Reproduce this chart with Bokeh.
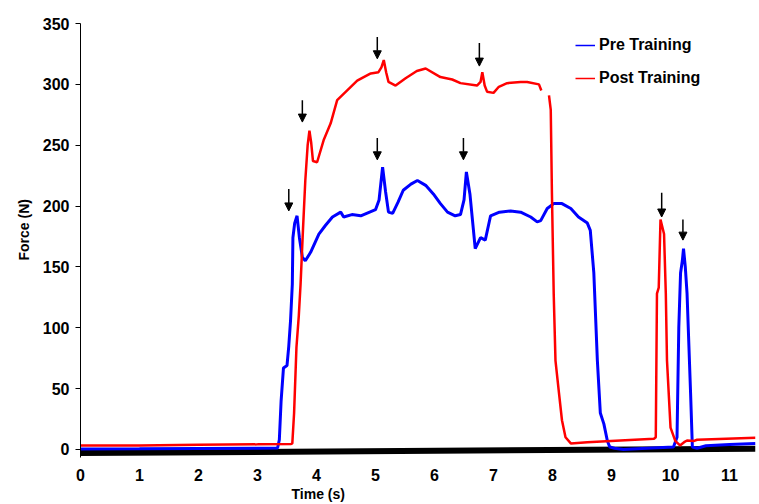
import numpy as np
from bokeh.plotting import figure
from bokeh.models import (ColumnDataSource, Arrow, NormalHead, Legend,
                          LegendItem, FixedTicker, Range1d, Title)
from bokeh.embed import file_html
from bokeh.resources import INLINE

# Force traces (N) over time (s)
pre_time = [0.0, 1.0, 2.0, 3.0, 3.34, 3.37, 3.40, 3.44, 3.50, 3.53, 3.56, 3.59,
            3.60, 3.63, 3.67, 3.71, 3.76, 3.81, 3.90, 4.04, 4.15, 4.27, 4.41,
            4.46, 4.60, 4.75, 4.90, 5.00, 5.06, 5.12, 5.17, 5.22, 5.29, 5.38,
            5.47, 5.60, 5.71, 5.85, 5.98, 6.10, 6.22, 6.35, 6.44, 6.50, 6.54,
            6.60, 6.69, 6.78, 6.86, 6.95, 7.10, 7.29, 7.46, 7.63, 7.74, 7.80,
            7.91, 8.02, 8.16, 8.31, 8.44, 8.59, 8.64, 8.70, 8.76, 8.81, 8.87,
            8.93, 8.97, 9.05, 9.20, 9.60, 10.05, 10.11, 10.14, 10.17, 10.20,
            10.22, 10.25, 10.28, 10.34, 10.37, 10.45, 10.60, 11.00, 11.44]
pre_force = [0.3, 0.5, 0.8, 1.0, 1.2, 8, 40, 67, 69, 85, 106, 136,
             174, 186, 192, 174, 158, 155, 162, 177, 184, 191, 195,
             191, 193, 192, 195, 197, 205, 232, 212, 195, 194, 203,
             213, 218, 221, 217, 210, 202, 195, 192, 193, 205, 228,
             210, 165, 174, 172, 192, 195, 196, 195, 191, 187, 188,
             198, 202, 202, 198, 191, 186, 180, 145, 73, 30, 21,
             7, 2, 1, 0, 1, 2, 10, 100, 145, 155,
             165, 150, 128, 46, 2, 1, 3, 4, 5]

post_time = [0.0, 1.0, 2.0, 3.0, 3.57, 3.59, 3.62, 3.66, 3.70, 3.73, 3.77, 3.81,
             3.85, 3.88, 3.91, 3.94, 4.01, 4.12, 4.24, 4.35, 4.52, 4.69, 4.80,
             4.92, 5.05, 5.10, 5.14, 5.18, 5.22, 5.34, 5.51, 5.70, 5.85, 6.10,
             6.30, 6.44, 6.72, 6.78, 6.81, 6.85, 6.89, 7.00, 7.09, 7.23, 7.46,
             7.57, 7.77, 7.81, 7.86, 7.94, 7.97, 7.99, 8.02, 8.05, 8.11, 8.16,
             8.22, 8.31, 8.59, 9.15, 9.72, 9.75, 9.77, 9.80, 9.83, 9.86, 9.89,
             9.92, 9.94, 10.00, 10.08, 10.16, 10.23, 10.28, 10.40, 10.45, 11.44]
post_force = [3.3, 3.3, 3.8, 4.2, 4.5, 5, 30, 84, 110, 136, 180, 221,
              250, 262, 252, 237, 236, 254, 268, 287, 295, 303, 306,
              309, 310, 314, 320, 310, 302, 299, 305, 311, 313, 306,
              304, 301, 299, 302, 310, 299, 294, 293, 298, 301, 302,
              302, 300, 295, np.nan, 291, 279, 210, 128, 73, 46, 24,
              10, 5, 6, 7.4, 8.8, 10, 128, 133, 189, 183, 177,
              128, 73, 18, 7, 3.3, 6, 7.4, 7, 8, 9.6]

# Heavy baseline trace along the bottom
base_time = [0.0, 11.44]
base_force = [-3.0, 0.6]

# Arrow markers over the force peaks: time, arrow tip and tail force
arrow_time = [3.53, 3.76, 5.03, 5.03, 6.49, 6.76, 9.85, 10.21]
arrow_tip = [196, 269, 238, 321, 238, 315, 191, 172]
arrow_tail = [214, 287, 256, 339, 256, 334, 211, 189]

y_ticks = [0, 50, 100, 150, 200, 250, 300, 350]
x_ticks = list(range(0, 12))

FONT = "Liberation Sans"

p = figure(width=759, height=504, output_backend="svg", toolbar_location=None,
           x_range=Range1d(0, 11.44), y_range=Range1d(-6.6, 350),
           min_border_left=80, min_border_right=4, min_border_top=23,
           min_border_bottom=47)
p.outline_line_color = None
p.xgrid.grid_line_color = None
p.ygrid.grid_line_color = None
p.background_fill_color = "white"
p.border_fill_color = "white"

# axes
p.yaxis.ticker = FixedTicker(ticks=y_ticks)
p.xaxis.ticker = FixedTicker(ticks=x_ticks)
for ax in (p.xaxis[0], p.yaxis[0]):
    ax.major_label_text_font = FONT
    ax.major_label_text_font_style = "bold"
    ax.major_label_text_font_size = "16px"
    ax.major_label_text_color = "black"
    ax.minor_tick_line_color = None
p.yaxis.axis_line_color = "black"
p.yaxis.major_tick_line_color = "black"
p.yaxis.major_tick_in = 0
p.yaxis.major_tick_out = 5
p.yaxis.major_label_standoff = 6
p.xaxis.axis_line_color = None
p.xaxis.major_tick_line_color = None
p.xaxis.major_label_standoff = 5

# axis titles, placed as side titles so they can be shifted off-centre
p.add_layout(Title(text="Time (s)", align="left", offset=211, text_font=FONT,
                   text_font_style="bold", text_font_size="14px",
                   text_color="black", standoff=0), "below")
p.add_layout(Title(text="Force (N)", align="left", offset=197, text_font=FONT,
                   text_font_style="bold", text_font_size="14px",
                   text_color="black", standoff=16), "left")

# traces
p.line(base_time, base_force, line_color="black", line_width=6)
p.line(pre_time, pre_force, line_color="#0000FF", line_width=3)
p.line(post_time, post_force, line_color="#FF0000", line_width=2.5)

# arrows over peaks
arrows = ColumnDataSource(dict(x=arrow_time, ys=arrow_tail, ye=arrow_tip))
p.add_layout(Arrow(source=arrows, x_start="x", y_start="ys", x_end="x", y_end="ye",
                   line_color="black", line_width=1.5,
                   end=NormalHead(size=8, fill_color="black", line_color="black")))

# legend with thin sample lines (renderers sit outside the visible range)
leg_pre = p.line([-5, -4], [-100, -100], line_color="#0000FF", line_width=1.5)
leg_post = p.line([-5, -4], [-100, -100], line_color="#FF0000", line_width=1.5)
legend = Legend(items=[LegendItem(label="Pre Training", renderers=[leg_pre]),
                       LegendItem(label="Post Training", renderers=[leg_post])],
                location=(495, 369), border_line_color=None,
                background_fill_alpha=0, padding=0, margin=0, spacing=13,
                glyph_width=20, glyph_height=20, label_height=20,
                label_standoff=4, label_text_font=FONT,
                label_text_color="black",
                label_text_font_style="bold", label_text_font_size="16px")
p.add_layout(legend)

open("out.html", "w").write(file_html(p, INLINE))
